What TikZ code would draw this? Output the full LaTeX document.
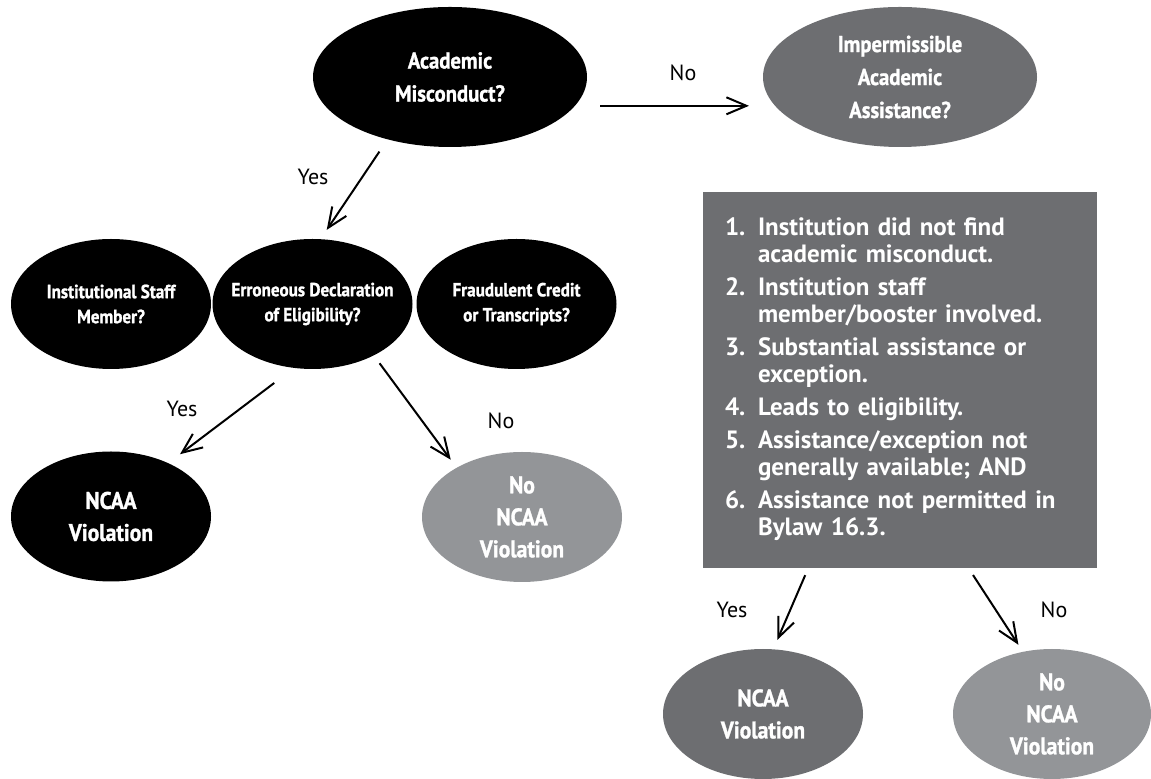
\documentclass[tikz,border=0pt]{standalone}
\usepackage{fontspec}
\setmainfont{PT Sans}
\newfontfamily\narrowsans[FakeStretch=0.9, BoldFont={PT Sans Bold}, BoldFeatures={FakeStretch=0.9, FakeBold=1.2}]{PT Sans}
\usetikzlibrary{shapes.geometric,arrows.meta}
\definecolor{dkgrey}{HTML}{6D6E71}
\definecolor{ltgrey}{HTML}{939598}

\begin{document}
\begin{tikzpicture}[x=0.5pt, y=-0.5pt,
  bubble/.style={ellipse, fill=#1, inner sep=-12pt, outer sep=0pt, text=white, align=center,
    minimum width=100pt, minimum height=65pt,
    font=\narrowsans\bfseries\fontsize{12}{16}\selectfont},
  bubble/.default=black,
  bigbubble/.style={minimum width=137pt, minimum height=70pt,
    font=\narrowsans\bfseries\fontsize{11.5}{16.5}\selectfont},
  smallbubble/.style={font=\narrowsans\bfseries\fontsize{9.5}{12.5}\selectfont},
  answer/.style={inner sep=0pt, font=\fontsize{11}{13}\selectfont},
  arr/.style={-{Straight Barb[length=10pt,width=8.5pt]}, line width=1pt}]
\useasboundingbox (0,0) rectangle (1151,779);
%
\node [bubble, bigbubble] (misconduct) at (450,77) {Academic\\Misconduct?};
\node [bubble=dkgrey, bigbubble] (assist) at (900,77) {Impermissible\\Academic\\Assistance?};
%
\node [bubble, smallbubble] (staff)   at (111,304)   {Institutional Staff\\Member?};
\node [bubble, smallbubble] (declare) at (312.5,304) {Erroneous Declaration\\of Eligibility?};
\node [bubble, smallbubble] (fraud)   at (516.5,304) {Fraudulent Credit\\or Transcripts?};
%
\node [bubble]        (viol)   at (111,516.5) {NCAA\\Violation};
\node [bubble=ltgrey]  (noviol) at (522,517)   {No\\NCAA\\Violation};
%
\node [fill=dkgrey, text=white, inner xsep=11pt, inner ysep=0pt, outer sep=0pt,
       minimum width=197pt, minimum height=188pt, text width=175pt, align=left,
       font=\bfseries\fontsize{12.5}{13.5}\selectfont] (criteria) at (900,380)
  {\begin{tabular}{@{}p{16.5pt}@{}l@{}}
   1. & Institution did not find\\
      & academic misconduct.\\[3pt]
   2. & Institution staff\\
      & member/booster involved.\\[3pt]
   3. & Substantial assistance or\\
      & exception.\\[3pt]
   4. & Leads to eligibility.\\[3pt]
   5. & Assistance/exception not\\
      & generally available; AND\\[3pt]
   6. & Assistance not permitted in\\
      & Bylaw 16.3.
   \end{tabular}};
%
\node [bubble=dkgrey] (violB) at (763,714) {NCAA\\Violation};
\node [bubble=ltgrey, minimum width=99pt] (noviolB) at (1052,714) {No\\NCAA\\Violation};
%
\node [answer] (no1)  at (683,73)  {No};
\node [answer] (yes1) at (313,177) {Yes};
\node [answer] (yes2) at (182,409) {Yes};
\node [answer] (no2)  at (501,421) {No};
\node [answer] (yes3) at (732,610) {Yes};
\node [answer] (no3)  at (1054,610) {No};
%
\draw[arr, shorten <=12.6pt, shorten >=13.1pt] (misconduct.-13.6) -- (assist.193.6);
\draw[arr, shorten <=7.4pt, shorten >=5.6pt] (misconduct.225.4) -- (declare.83);
\draw[arr, shorten <=12.5pt, shorten >=7.4pt] (declare.254.6) -- (viol.43.2);
\draw[arr, shorten <=4.9pt, shorten >=5pt] (declare.-40.5) -- (noviol.143);
\draw[arr, shorten <=3.9pt, shorten >=5.1pt] (criteria.244.5) -- (violB.81.9);
\draw[arr, shorten <=4.2pt, shorten >=4.2pt] (criteria.-70.3) -- (noviolB.115.4);
\end{tikzpicture}
\end{document}
